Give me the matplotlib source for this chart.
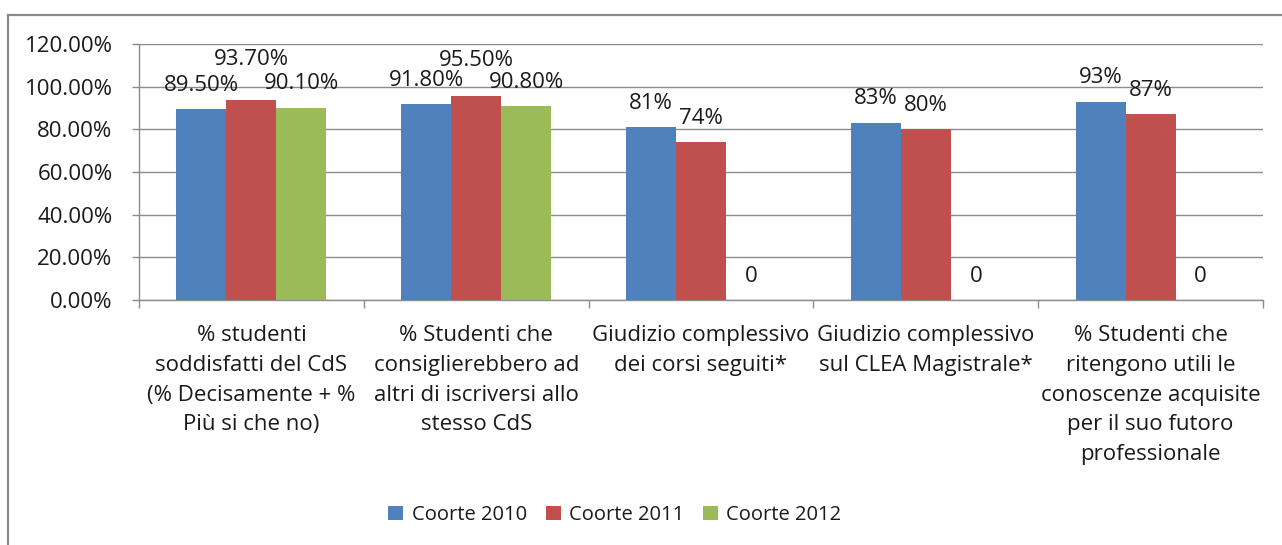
import matplotlib
matplotlib.use("Agg")
import matplotlib.pyplot as plt
from matplotlib.lines import Line2D
from matplotlib.ticker import FuncFormatter, FixedLocator
import numpy as np

categories = [
    "% studenti\nsoddisfatti del CdS\n(% Decisamente + %\nPiù si che no)",
    "% Studenti che\nconsiglierebbero ad\naltri di iscriversi allo\nstesso CdS",
    "Giudizio complessivo\ndei corsi seguiti*",
    "Giudizio complessivo\nsul CLEA Magistrale*",
    "% Studenti che\nritengono utili le\nconoscenze acquisite\nper il suo futoro\nprofessionale",
]
series_names = ["Coorte 2010", "Coorte 2011", "Coorte 2012"]
coorte_2010 = [0.895, 0.918, 0.81, 0.83, 0.93]
coorte_2011 = [0.937, 0.955, 0.74, 0.80, 0.87]
coorte_2012 = [0.901, 0.908, 0.0, 0.0, 0.0]
labels_2010 = ["89.50%", "91.80%", "81%", "83%", "93%"]
labels_2011 = ["93.70%", "95.50%", "74%", "80%", "87%"]
labels_2012 = ["90.10%", "90.80%", "0", "0", "0"]
yticks = [0.0, 0.2, 0.4, 0.6, 0.8, 1.0, 1.2]

colors = ["#4F81BD", "#C0504D", "#9BBB59"]
# extra vertical label offsets (pixels) for readability
extra_off = [[0, 0, 0, 0, 0], [17, 12, 0, 0, 0], [0, 0, 0, 0, 0]]

plt.rcParams['font.family'] = ['Open Sans', 'DejaVu Sans']

W, H = 1282, 545
fig = plt.figure(figsize=(W / 100, H / 100), dpi=100)
ax = fig.add_axes([139 / W, (H - 300) / H, (1263 - 139) / W, (300 - 44) / H])

x = np.arange(len(categories))
bw = 0.2225
series = [coorte_2010, coorte_2011, coorte_2012]
labels = [labels_2010, labels_2011, labels_2012]
for i, (vals, labs, c, name) in enumerate(zip(series, labels, colors, series_names)):
    pos = x + (i - 1) * bw
    ax.bar(pos, vals, width=bw, color=c, label=name, zorder=3, linewidth=0)
    for p, v, t, eo in zip(pos, vals, labs, extra_off[i]):
        ax.annotate(t, (p, v), xytext=(0, 24 + eo), textcoords="offset pixels",
                    ha="center", va="center", fontsize=16, color="#1a1a1a", zorder=4)

ax.set_xlim(-0.5, len(categories) - 0.5)
ax.set_ylim(0, 1.2)
ax.set_yticks(yticks)
ax.yaxis.set_major_formatter(FuncFormatter(lambda v, p: f"{v*100:.2f}%"))
ax.grid(axis="y", color="#8c8c8c", linewidth=1.0, zorder=0)
ax.set_axisbelow(True)

ax.set_xticks(x)
ax.set_xticklabels(categories, fontsize=16, linespacing=1.55, color="#1a1a1a")
ax.xaxis.set_minor_locator(FixedLocator(np.arange(len(categories) + 1) - 0.5))
ax.tick_params(axis="x", which="major", length=0, pad=18)
ax.tick_params(axis="x", which="minor", length=6, color="#8c8c8c", width=1.0)
ax.tick_params(axis="y", length=5, color="#8c8c8c", width=1.0, pad=14, labelsize=16, labelcolor="#1a1a1a")

for s in ["top", "right"]:
    ax.spines[s].set_visible(False)
for s in ["left", "bottom"]:
    ax.spines[s].set_color("#8c8c8c")
    ax.spines[s].set_linewidth(1.0)

leg = fig.legend(loc="center", bbox_to_anchor=(615 / W, (H - 515) / H), ncol=3, frameon=False,
                 fontsize=14.5, handlelength=0.75, handleheight=0.75, handletextpad=0.4,
                 columnspacing=0.95)
for t in leg.get_texts():
    t.set_color("#1a1a1a")

fig.add_artist(Line2D([8 / W, 1.0], [(H - 15) / H, (H - 15) / H], transform=fig.transFigure,
                      color="#8a8a8a", linewidth=1.6))
fig.add_artist(Line2D([8 / W, 8 / W], [0, (H - 15) / H], transform=fig.transFigure,
                      color="#8a8a8a", linewidth=1.6))

fig.savefig("out.png", dpi=100)
